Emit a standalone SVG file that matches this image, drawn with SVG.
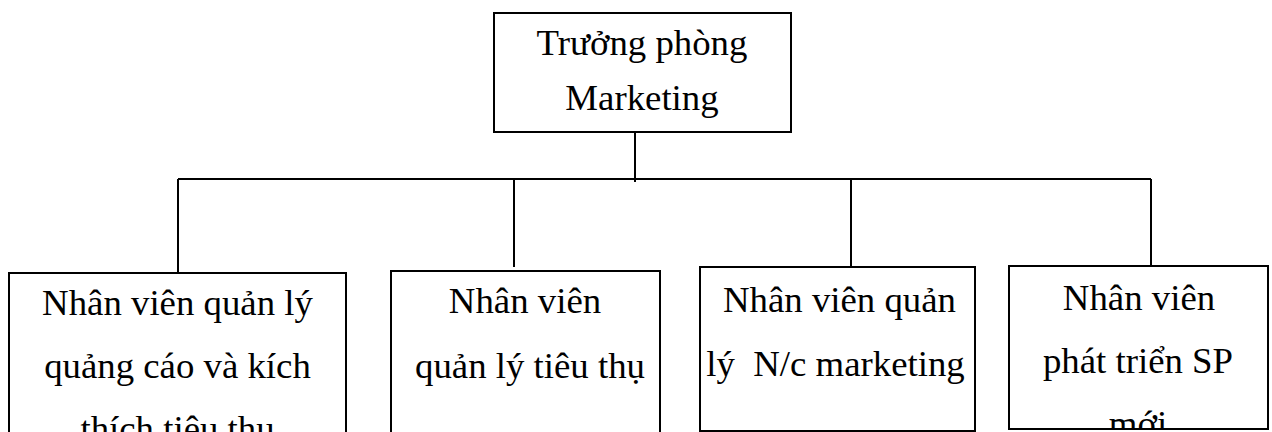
<svg xmlns="http://www.w3.org/2000/svg" width="1272" height="432" viewBox="0 0 1272 432">
<style>
.box{fill:#fff;stroke:#000;stroke-width:2}
.ln{stroke:#000;stroke-width:2;fill:none}
text{font-family:"Liberation Serif","Times New Roman",serif;font-size:36.8px;fill:#000;text-anchor:middle}
</style>
<defs>
<clipPath id="c1"><rect x="9" y="273" width="337" height="159"/></clipPath>
<clipPath id="c4"><rect x="1009" y="266" width="259" height="163"/></clipPath>
</defs>
<rect width="1272" height="432" fill="#fff"/>
<g id="connectors">
<line class="ln" x1="635" y1="125" x2="635" y2="182"/>
<line class="ln" x1="178" y1="179" x2="1151" y2="179"/>
<line class="ln" x1="178" y1="179" x2="178" y2="273"/>
<line class="ln" x1="514" y1="179" x2="514" y2="267"/>
<line class="ln" x1="851" y1="179" x2="851" y2="267"/>
<line class="ln" x1="1151" y1="179" x2="1151" y2="266"/>
</g>
<g id="n0">
<rect class="box" x="494" y="13" width="297" height="119"/>
<text x="642" y="55">Trưởng phòng</text>
<text x="642" y="110">Marketing</text>
</g>
<g id="n1">
<rect class="box" x="9" y="273" width="337" height="170"/>
<g clip-path="url(#c1)">
<text x="177.5" y="315">Nhân viên quản lý</text>
<text x="177.5" y="378">quảng cáo và kích</text>
<text x="177.5" y="441">thích tiêu thụ</text>
</g>
</g>
<g id="n2">
<rect class="box" x="391" y="271" width="269" height="172"/>
<text x="525" y="313">Nhân viên</text>
<text x="530" y="378">quản lý tiêu thụ</text>
</g>
<g id="n3">
<rect class="box" x="700" y="267" width="275" height="164"/>
<text x="839.5" y="312">Nhân viên quản</text>
<text x="835.5" y="376" xml:space="preserve">lý  N/c marketing</text>
</g>
<g id="n4">
<rect class="box" x="1009" y="266" width="259" height="163"/>
<g clip-path="url(#c4)">
<text x="1139" y="310">Nhân viên</text>
<text x="1138" y="373">phát triển SP</text>
<text x="1138" y="436">mới</text>
</g>
</g>
</svg>
